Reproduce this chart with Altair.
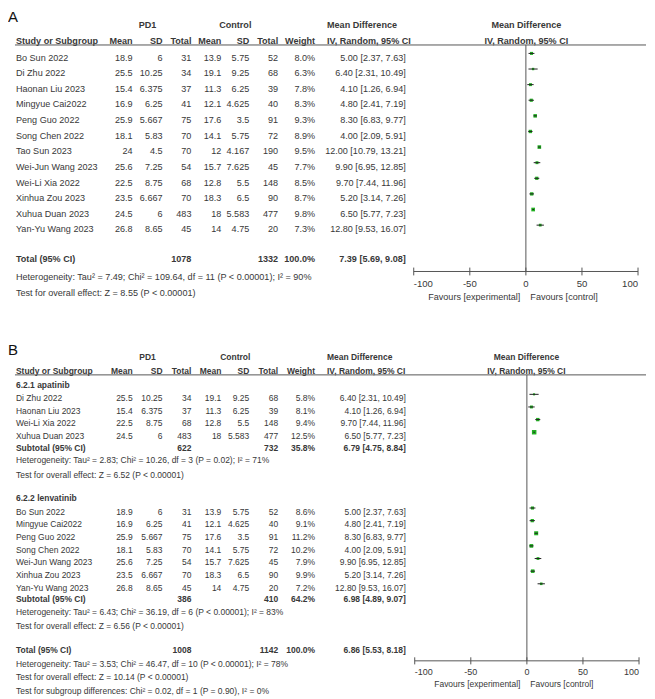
import altair as alt
import pandas as pd

# ---------------- data ----------------
studies = ["Bo Sun 2022", "Di Zhu 2022", "Haonan Liu 2023", "Mingyue Cai2022",
           "Peng Guo 2022", "Song Chen 2022", "Tao Sun 2023", "Wei-Jun Wang 2023",
           "Wei-Li Xia 2022", "Xinhua Zou 2023", "Xuhua Duan 2023", "Yan-Yu Wang 2023"]
pd1_mean = [18.9, 25.5, 15.4, 16.9, 25.9, 18.1, 24, 25.6, 22.5, 23.5, 24.5, 26.8]
pd1_sd = [6, 10.25, 6.375, 6.25, 5.667, 5.83, 4.5, 7.25, 8.75, 6.667, 6, 8.65]
pd1_total = [31, 34, 37, 41, 75, 70, 70, 54, 68, 70, 483, 45]
ctl_mean = [13.9, 19.1, 11.3, 12.1, 17.6, 14.1, 12, 15.7, 12.8, 18.3, 18, 14]
ctl_sd = [5.75, 9.25, 6.25, 4.625, 3.5, 5.75, 4.167, 7.625, 5.5, 6.5, 5.583, 4.75]
ctl_total = [52, 68, 39, 40, 91, 72, 190, 45, 148, 90, 477, 20]
md = [5.00, 6.40, 4.10, 4.80, 8.30, 4.00, 12.00, 9.90, 9.70, 5.20, 6.50, 12.80]
md_lo = [2.37, 2.31, 1.26, 2.41, 6.83, 2.09, 10.79, 6.95, 7.44, 3.14, 5.77, 9.53]
md_hi = [7.63, 10.49, 6.94, 7.19, 9.77, 5.91, 13.21, 12.85, 11.96, 7.26, 7.23, 16.07]
weight_a = [8.0, 6.3, 7.8, 8.3, 9.3, 8.9, 9.5, 7.7, 8.5, 8.7, 9.8, 7.3]

# [n PD1, n control, weight, MD, lower, upper]
total_a = [1078, 1332, 100.0, 7.39, 5.69, 9.08]
het_a = "Heterogeneity: Tau\u00b2 = 7.49; Chi\u00b2 = 109.64, df = 11 (P < 0.00001); I\u00b2 = 90%"
eff_a = "Test for overall effect: Z = 8.55 (P < 0.00001)"

sub1_name = "6.2.1 apatinib"
sub1_studies = ["Di Zhu 2022", "Haonan Liu 2023", "Wei-Li Xia 2022", "Xuhua Duan 2023"]
sub1_weight = [5.8, 8.1, 9.4, 12.5]
sub1_total = [622, 732, 35.8, 6.79, 4.75, 8.84]
het_b1 = "Heterogeneity: Tau\u00b2 = 2.83; Chi\u00b2 = 10.26, df = 3 (P = 0.02); I\u00b2 = 71%"
eff_b1 = "Test for overall effect: Z = 6.52 (P < 0.00001)"

sub2_name = "6.2.2 lenvatinib"
sub2_studies = ["Bo Sun 2022", "Mingyue Cai2022", "Peng Guo 2022", "Song Chen 2022",
                "Wei-Jun Wang 2023", "Xinhua Zou 2023", "Yan-Yu Wang 2023"]
sub2_weight = [8.6, 9.1, 11.2, 10.2, 7.9, 9.9, 7.2]
sub2_total = [386, 410, 64.2, 6.98, 4.89, 9.07]
het_b2 = "Heterogeneity: Tau\u00b2 = 6.43; Chi\u00b2 = 36.19, df = 6 (P < 0.00001); I\u00b2 = 83%"
eff_b2 = "Test for overall effect: Z = 6.56 (P < 0.00001)"

total_b = [1008, 1142, 100.0, 6.86, 5.53, 8.18]
het_b = "Heterogeneity: Tau\u00b2 = 3.53; Chi\u00b2 = 46.47, df = 10 (P < 0.00001); I\u00b2 = 78%"
eff_b = "Test for overall effect: Z = 10.14 (P < 0.00001)"
subdiff_b = "Test for subgroup differences: Chi\u00b2 = 0.02, df = 1 (P = 0.90), I\u00b2 = 0%"

axis_ticks = [-100, -50, 0, 50, 100]
favours = ["Favours [experimental]", "Favours [control]"]
header_top = ["PD1", "Control", "Mean Difference", "Mean Difference"]
header_cols = ["Study or Subgroup", "Mean", "SD", "Total", "Mean", "SD", "Total",
               "Weight", "IV, Random, 95% CI", "IV, Random, 95% CI"]

# ---------------- style ----------------
FONT = "Liberation Sans, Arial, sans-serif"
TXT = "#383838"
LINE = "#555555"
GREEN = "#22b022"
W = 639
NAME_X = 8
COL_X = {"pm": 125, "psd": 155, "pt": 184, "cm": 214, "csd": 242,
         "ct": 271, "w": 308, "ci": 399}
COLS = ["pm", "psd", "pt", "cm", "csd", "ct", "w"]


def g(v):
    return "{:g}".format(v)


def ci_txt(m, lo, hi):
    return "{:.2f} [{:.2f}, {:.2f}]".format(m, lo, hi)


def study_rows(names, weights, rows):
    out = []
    for nm, w, r in zip(names, weights, rows):
        i = studies.index(nm)
        out.append(dict(row=r, name=nm, pm=g(pd1_mean[i]), psd=g(pd1_sd[i]),
                        pt=g(pd1_total[i]), cm=g(ctl_mean[i]), csd=g(ctl_sd[i]),
                        ct=g(ctl_total[i]), w="{:.1f}%".format(w),
                        ci=ci_txt(md[i], md_lo[i], md_hi[i]),
                        md=md[i], lo=md_lo[i], hi=md_hi[i], wn=w))
    return pd.DataFrame(out)


def sum_rows(items):
    out = []
    for label, vals, r in items:
        out.append(dict(row=r, name=label, pt=g(vals[0]), ct=g(vals[1]),
                        w="{:.1f}%".format(vals[2]), ci=ci_txt(vals[3], vals[4], vals[5]),
                        md=vals[3], lo=vals[4], hi=vals[5]))
    return pd.DataFrame(out)


def build_panel(letter, sdf, tdf, bold_labels, notes, L, height, fs, yscale, xscale,
                marker_off, dia_h, tick_h, sq_k):
    Y = lambda f="row": alt.Y(f + ":Q", scale=yscale, axis=None)
    X = lambda f: alt.X(f + ":Q", scale=xscale, axis=None)

    def text_layer(df, x, field, align="left", bold=False, size=fs, color=TXT):
        return alt.Chart(df).mark_text(
            align=align, baseline="middle", font=FONT, fontSize=size,
            fontWeight="bold" if bold else "normal", color=color
        ).encode(x=alt.value(x), y=Y(), text=alt.Text(field + ":N"))

    layers = []
    # panel letter
    layers.append(text_layer(pd.DataFrame({"row": [L["letter"]], "t": [letter]}), 0, "t",
                             size=15, color="#111111"))
    # headers
    ht = pd.DataFrame({"row": [L["h1"]] * 4, "t": header_top})
    layers.append(text_layer(ht.iloc[[0]], 140, "t", "center", True))
    layers.append(text_layer(ht.iloc[[1]], 228, "t", "center", True))
    layers.append(text_layer(ht.iloc[[2]], 320, "t", "left", True))
    layers.append(text_layer(ht.iloc[[3]], 520, "t", "center", True))
    hc = pd.DataFrame({"row": [L["h2"]] * len(header_cols), "t": header_cols})
    layers.append(text_layer(hc.iloc[[0]], NAME_X, "t", "left", True))
    for k, c in enumerate(COLS):
        layers.append(text_layer(hc.iloc[[k + 1]], COL_X[c], "t", "right", True))
    layers.append(text_layer(hc.iloc[[8]], 320, "t", "left", True))
    layers.append(text_layer(hc.iloc[[9]], 520, "t", "center", True))
    # header underline
    layers.append(alt.Chart(pd.DataFrame({"row": [L["ul"]]})).mark_rule(
        color=LINE, strokeWidth=1).encode(x=alt.value(7), x2=alt.value(640), y=Y()))

    # study rows
    layers.append(text_layer(sdf, NAME_X, "name"))
    for c in COLS + ["ci"]:
        layers.append(text_layer(sdf, COL_X[c], c, "right"))
    # totals / subtotals
    layers.append(text_layer(tdf, NAME_X, "name", bold=True))
    for c in ["pt", "ct", "w", "ci"]:
        layers.append(text_layer(tdf, COL_X[c], c, "right", True))
    # bold labels (subgroup titles)
    if len(bold_labels):
        layers.append(text_layer(bold_labels, NAME_X, "t", bold=True))
    # notes
    layers.append(text_layer(notes, NAME_X, "t"))

    # zero line
    layers.append(alt.Chart(pd.DataFrame({"v": [0], "row": [L["ul"]], "row2": [L["axis"]]}))
                  .mark_rule(color=LINE, strokeWidth=1)
                  .encode(x=X("v"), y=Y(), y2=alt.Y2("row2")))

    # markers
    sdf = sdf.copy()
    sdf["mrow"] = sdf["row"] - marker_off
    sdf["sz"] = (sdf["wn"] * sq_k) ** 2
    layers.append(alt.Chart(sdf).mark_square(color=GREEN, opacity=1)
                  .encode(x=X("md"), y=Y("mrow"),
                          size=alt.Size("sz:Q", scale=None, legend=None)))
    layers.append(alt.Chart(sdf).mark_rule(color="#222222", strokeWidth=1)
                  .encode(x=X("lo"), x2=alt.X2("hi"), y=Y("mrow")))

    # diamonds
    drows = []
    for k, r in tdf.iterrows():
        c = r["row"] - marker_off * 0.7
        drows += [dict(gid=k, v=r["lo"], yt=c, yb=c),
                  dict(gid=k, v=r["md"], yt=c - dia_h, yb=c + dia_h),
                  dict(gid=k, v=r["hi"], yt=c, yb=c)]
    layers.append(alt.Chart(pd.DataFrame(drows)).mark_area(color="#111111", opacity=1)
                  .encode(x=X("v"), y=Y("yt"), y2=alt.Y2("yb"), detail="gid:N",
                          order=alt.Order("v:Q")))

    # forest axis
    layers.append(alt.Chart(pd.DataFrame({"v": [axis_ticks[0]], "v2": [axis_ticks[-1]],
                                          "row": [L["axis"]]}))
                  .mark_rule(color=LINE, strokeWidth=1)
                  .encode(x=X("v"), x2=alt.X2("v2"), y=Y()))
    tk = pd.DataFrame({"v": axis_ticks, "row": [L["axis"] - tick_h] * 5,
                       "row2": [L["axis"] + tick_h] * 5,
                       "lrow": [L["tl"]] * 5, "t": [str(t) for t in axis_ticks]})
    layers.append(alt.Chart(tk).mark_rule(color=LINE, strokeWidth=1)
                  .encode(x=X("v"), y=Y(), y2=alt.Y2("row2")))
    for sub, al in [(tk.iloc[[0]], "left"), (tk.iloc[1:4], "center"), (tk.iloc[[4]], "right")]:
        layers.append(alt.Chart(sub).mark_text(align=al, baseline="middle", font=FONT,
                                               fontSize=fs + 0.5, color=TXT)
                      .encode(x=X("v"), y=Y("lrow"), text="t:N"))
    fv = pd.DataFrame({"row": [L["fav"]] * 2, "t": favours})
    layers.append(text_layer(fv.iloc[[0]], 514, "t", "right"))
    layers.append(text_layer(fv.iloc[[1]], 524, "t", "left"))

    return alt.layer(*layers).properties(width=W, height=height)


# ---------------- panel A ----------------
sa = 15.66
ya0 = 48.7
LA = dict(letter=-2.62, h1=-2.09, h2=-1.07, ul=-0.81, axis=13.7, tl=14.47, fav=15.33)
sdfA = study_rows(studies, weight_a, list(range(12)))
tdfA = sum_rows([("Total (95% CI)", total_a, 12.92)])
notesA = pd.DataFrame({"row": [14.05, 15.07], "t": [het_a, eff_a]})
panelA = build_panel(
    "A", sdfA, tdfA, pd.DataFrame({"row": [], "t": []}), notesA, LA, 315, 9.1,
    alt.Scale(domain=[0, 10], range=[ya0, ya0 + 10 * sa], nice=False, zero=False),
    alt.Scale(domain=[-100, 100], range=[407, 632], nice=False, zero=False),
    marker_off=0.27, dia_h=0.3, tick_h=0.25, sq_k=0.38)

# ---------------- panel B ----------------
sb = 12.67
yb0 = 62.6
LB = dict(letter=-2.78, h1=-2.26, h2=-1.15, ul=-0.84, axis=21.8, tl=22.7, fav=23.6)
sdfB = pd.concat([study_rows(sub1_studies, sub1_weight, [1, 2, 3, 4]),
                  study_rows(sub2_studies, sub2_weight, list(range(10, 17)))],
                 ignore_index=True)
tdfB = sum_rows([("Subtotal (95% CI)", sub1_total, 4.95),
                 ("Subtotal (95% CI)", sub2_total, 16.92),
                 ("Total (95% CI)", total_b, 20.95)])
boldB = pd.DataFrame({"row": [0, 8.87], "t": [sub1_name, sub2_name]})
notesB = pd.DataFrame({"row": [5.87, 7.06, 17.97, 19.03, 22.05, 23.1, 24.16],
                       "t": [het_b1, eff_b1, het_b2, eff_b2, het_b, eff_b, subdiff_b]})
panelB = build_panel(
    "B", sdfB, tdfB, boldB, notesB, LB, 368, 8.5,
    alt.Scale(domain=[0, 10], range=[yb0, yb0 + 10 * sb], nice=False, zero=False),
    alt.Scale(domain=[-100, 100], range=[408, 633], nice=False, zero=False),
    marker_off=0.3, dia_h=0.32, tick_h=0.28, sq_k=0.36)

chart = alt.vconcat(panelA, panelB, spacing=0).properties(
    padding=0, background="white"
).configure_view(stroke=None)

chart.save("out.html", embed_options={"renderer": "svg", "actions": False})
